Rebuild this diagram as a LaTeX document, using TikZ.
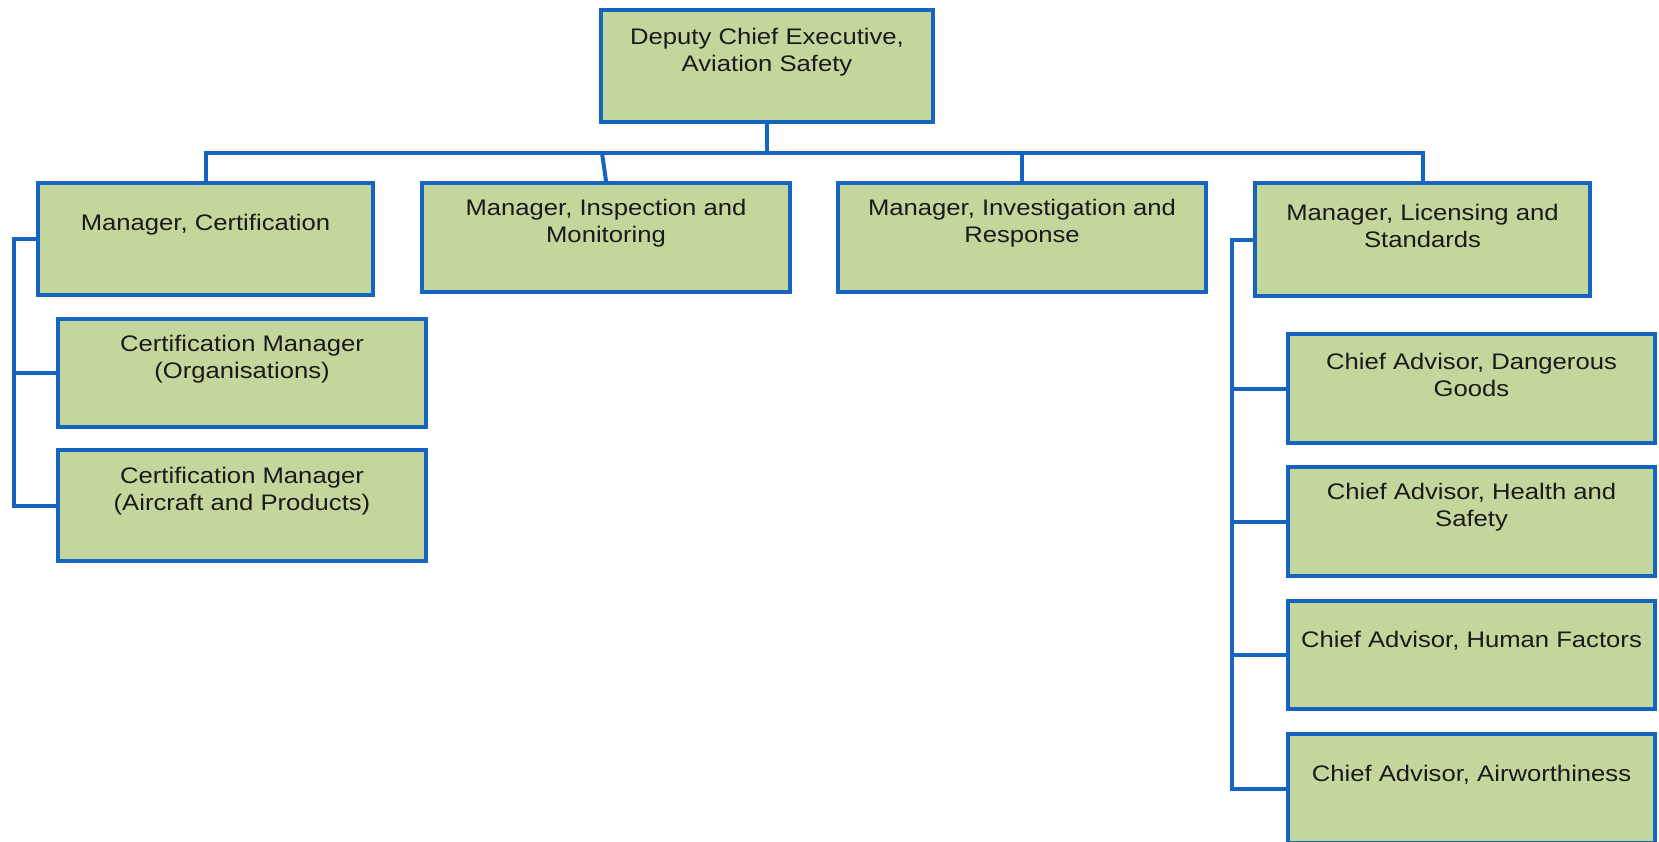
\documentclass[tikz,border=0pt]{standalone}
\usepackage{fontspec}
\setmainfont{Liberation Sans}[FakeStretch=1.14]
\definecolor{boxfill}{HTML}{C3D69B}
\definecolor{boxline}{HTML}{1565C0}
\definecolor{txt}{HTML}{1A1A1A}
\tikzset{
  orgbox/.style={draw=boxline, fill=boxfill, line width=4.5pt, rectangle, inner sep=0pt},
  orgtext/.style={text=txt, align=center, inner sep=0pt, font=\fontsize{22.5}{27}\selectfont},
  conn/.style={draw=boxline, line width=4pt, line cap=rect}
}
\newcommand{\orgbx}[6]{%
  \node[orgbox, minimum width=#4pt, minimum height=#5pt] (#1) at (#2,#3) {};
  \node[orgtext] (#1t) at ([yshift=14pt]#1.center) {#6};
}
\begin{document}
\begin{tikzpicture}[x=1pt,y=-1pt]
\useasboundingbox (0,0) rectangle (1659,841);
\begin{scope}
\clip (0,0) rectangle (1659,841);
\coordinate (bus) at (767,153);
\coordinate (busL) at (205.5,153);
\coordinate (busR) at (1422.5,153);
\coordinate (inspTop) at (602,153);
\coordinate (invTop) at (1022,153);
\coordinate (lbr) at (14,239);
\coordinate (rbr) at (1232,239.5);
\orgbx{top}{767}{66}{332}{112}{Deputy Chief Executive,\\Aviation Safety}
\orgbx{mc}{205.5}{239}{335}{112}{Manager, Certification}
\orgbx{insp}{606}{237.5}{368}{109}{Manager, Inspection and\\Monitoring}
\orgbx{inv}{1022}{237.5}{368}{109}{Manager, Investigation and\\Response}
\orgbx{lic}{1422.5}{239.5}{335}{113}{Manager, Licensing and\\Standards}
\orgbx{co}{242}{373}{368}{108}{Certification Manager\\(Organisations)}
\orgbx{ca}{242}{505.5}{368}{111}{Certification Manager\\(Aircraft and Products)}
\orgbx{dg}{1471.5}{388.5}{367}{109}{Chief Advisor, Dangerous\\Goods}
\orgbx{hs}{1471.5}{521.5}{367}{109}{Chief Advisor, Health and\\Safety}
\orgbx{hf}{1471.5}{655}{367}{108}{Chief Advisor, Human Factors}
\orgbx{aw}{1471.5}{788.5}{367}{109}{Chief Advisor, Airworthiness}
\draw[conn] (top.south) -- (bus);
\draw[conn] (busL) -- (busR);
\draw[conn] (busL) -- (mc.north);
\draw[conn] (busR) -- (lic.north);
\draw[conn] (inspTop) -- (insp.north);
\draw[conn] (invTop) -- (inv.north);
\draw[conn] (mc.west) -- (lbr) |- (ca.west);
\draw[conn] (co.west) -- (co.west -| lbr);
\draw[conn] (lic.west) -- (rbr) |- (aw.west);
\draw[conn] (dg.west) -- (dg.west -| rbr);
\draw[conn] (hs.west) -- (hs.west -| rbr);
\draw[conn] (hf.west) -- (hf.west -| rbr);
\end{scope}
\end{tikzpicture}
\end{document}
